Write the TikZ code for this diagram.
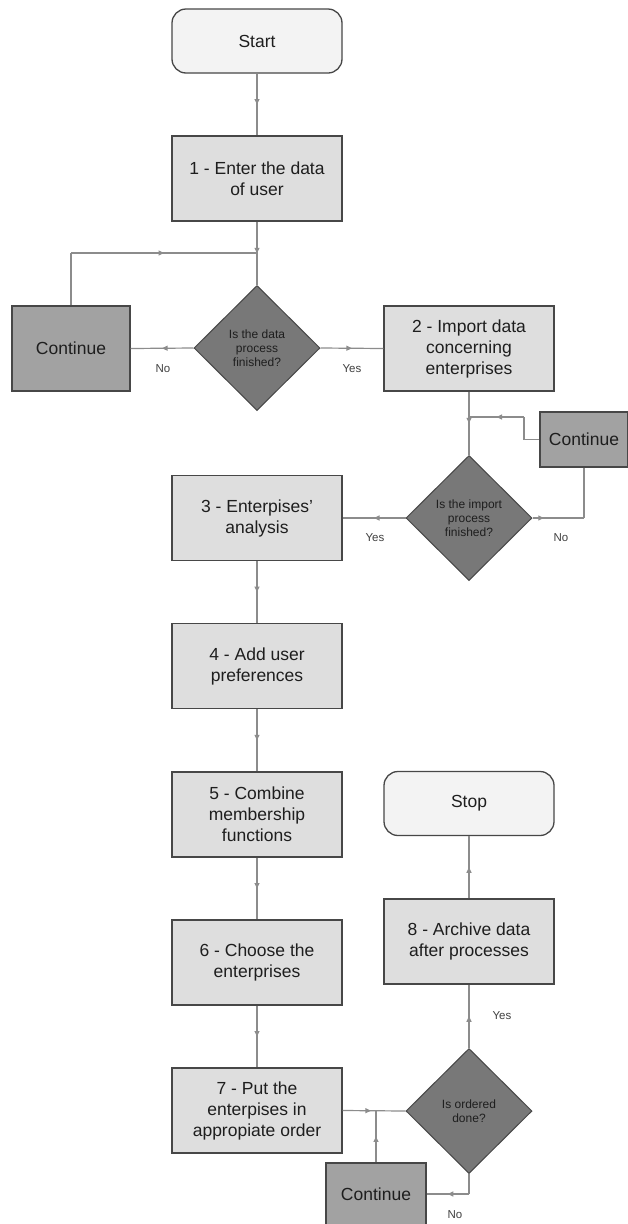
\documentclass[tikz,border=0pt]{standalone}
\usepackage{fontspec}
\setmainfont{Liberation Sans}
\usetikzlibrary{shapes.geometric,arrows.meta,decorations.markings}
\definecolor{boxfill}{HTML}{DEDEDE}
\definecolor{contfill}{HTML}{A2A2A2}
\definecolor{decfill}{HTML}{787878}
\definecolor{termfill}{HTML}{F3F3F3}
\definecolor{boxdraw}{HTML}{474747}
\definecolor{linec}{HTML}{8C8C8C}
\definecolor{textc}{HTML}{1E1E1E}
\begin{document}
\begin{tikzpicture}[x=1pt,y=-1pt,
  proc/.style={draw=boxdraw, line width=1.3pt, fill=boxfill, minimum width=170pt, minimum height=85pt,
    inner sep=2pt, align=center, font=\fontsize{17.5}{21}\selectfont, text=textc},
  cont/.style={proc, fill=contfill},
  term/.style={proc, fill=termfill, rounded corners=14pt, minimum height=64pt},
  dec/.style={diamond, draw=boxdraw, line width=1pt, fill=decfill, minimum width=126pt, minimum height=125pt,
    inner sep=0pt, align=center, font=\fontsize{12}{14}\selectfont, text=textc},
  conn/.style={draw=linec, line width=1.2pt},
  lbl/.style={font=\fontsize{11.5}{14}\selectfont, text=textc!85},
  ma/.style={postaction={decorate, decoration={markings, mark=at position #1 with {\arrow{Triangle[length=5.5pt,width=5pt]}}}}},
  ma/.default=0.5]
\useasboundingbox[fill=white] (0,0) rectangle (627,1224);

% nodes
\node[term] (start) at (257,41) {Start};
\node[proc] (b1) at (257,178.5) {1 - Enter the data\\of user};
\node[dec] (d1) at (257,348) {Is the data\\process\\finished?};
\node[cont, minimum width=118pt] (c1) at (71,348.5) {Continue};
\node[proc] (b2) at (469,348.5) {2 - Import data\\concerning\\enterprises};
\node[cont, minimum width=88pt, minimum height=55pt] (c2) at (584,439.5) {Continue};
\node[dec] (d2) at (469,518) {Is the import\\process\\finished?};
\node[proc] (b3) at (257,518) {3 - Enterpises'\\analysis};
\node[proc] (b4) at (257,666) {4 - Add user\\preferences};
\node[proc] (b5) at (257,814.5) {5 - Combine\\membership\\functions};
\node[proc] (b6) at (257,962.5) {6 - Choose the\\enterprises};
\node[proc] (b7) at (257,1110.5) {7 - Put the\\enterpises in\\appropiate order};
\node[term] (stop) at (469,803.5) {Stop};
\node[proc] (b8) at (469,941.5) {8 - Archive data\\after processes};
\node[dec] (d3) at (469,1111) {Is ordered\\done?};
\node[cont, minimum width=100pt, minimum height=62pt] (c3) at (376,1194) {Continue};

% junctions
\coordinate (j1) at (257,253);
\coordinate (j2) at (469,417);
\coordinate (j3) at (376,1110.5);
\coordinate (k2a) at (524,439.5);
\coordinate (k2b) at (524,417);

% connectors
\draw[conn,ma] (start) -- (b1);
\draw[conn,ma] (b1) -- (d1);
\draw[conn,ma] (d1.west) -- (c1.east);
\draw[conn,ma] (d1.east) -- (b2.west);
\draw[conn] (c1.north) -- (c1.north |- j1);
\draw[conn,ma] (c1.north |- j1) -- (j1);
\draw[conn,ma] (b2) -- (d2);
\draw[conn] (c2.west) -- (k2a) -- (k2b);
\draw[conn,ma] (k2b) -- (j2);
\draw[conn,ma=0.22] (d2.east) -- (d2.east -| c2.south);
\draw[conn] (d2.east -| c2.south) -- (c2.south);
\draw[conn,ma] (d2.west) -- (b3.east);
\draw[conn,ma] (b3) -- (b4);
\draw[conn,ma] (b4) -- (b5);
\draw[conn,ma] (b5) -- (b6);
\draw[conn,ma] (b6) -- (b7);
\draw[conn,ma=0.45] (b7.east) -- (d3.west);
\draw[conn,ma] (c3.north) -- (j3);
\draw[conn] (d3.south) -- (d3.south |- c3.east);
\draw[conn,ma] (d3.south |- c3.east) -- (c3.east);
\draw[conn,ma] (d3) -- (b8);
\draw[conn,ma] (b8) -- (stop);

% labels
\node[lbl] (l1) at (163,369) {No};
\node[lbl] (l2) at (352,369) {Yes};
\node[lbl] (l3) at (375,538) {Yes};
\node[lbl] (l4) at (561,538) {No};
\node[lbl] (l5) at (502,1016) {Yes};
\node[lbl] (l6) at (455,1215) {No};
\end{tikzpicture}
\end{document}
